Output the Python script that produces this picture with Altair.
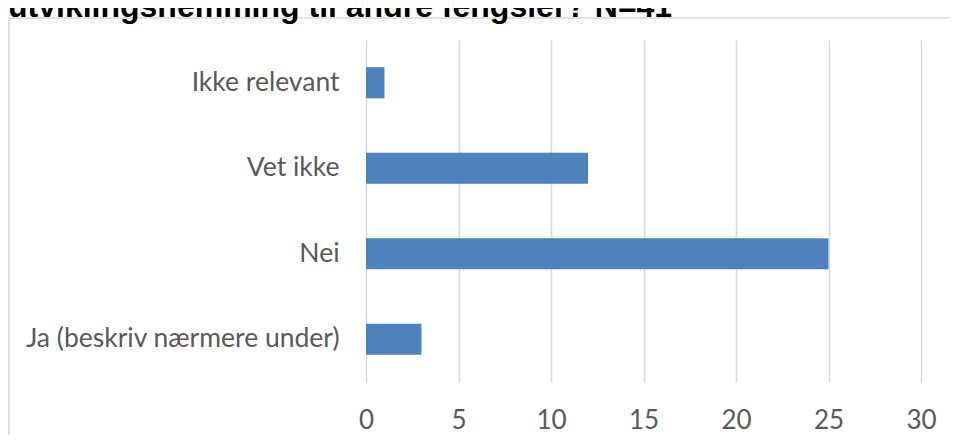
import altair as alt
import pandas as pd

categories = ["Ikke relevant", "Vet ikke", "Nei", "Ja (beskriv nærmere under)"]
values = [1, 12, 25, 3]
title_text = "utviklingshemming til andre fengsler? N=41"
x_ticks = [0, 5, 10, 15, 20, 25, 30]

df = pd.DataFrame({"kategori": categories, "antall": values})
one = pd.DataFrame({"t": [title_text]})

W, H = 555, 342
PAD_L, PAD_T = 358, 32

bars = alt.Chart(df).mark_bar(color="#4F81BD").encode(
    x=alt.X(
        "antall:Q",
        scale=alt.Scale(domain=[0, 30], nice=False),
        axis=alt.Axis(
            values=x_ticks, title=None, domain=False, ticks=False,
            grid=True, gridColor="#D9D9D9", gridWidth=1.5,
            labelFont="Lato", labelFontSize=26, labelColor="#595959",
            labelPadding=25, labelFlush=False,
        ),
    ),
    y=alt.Y(
        "kategori:N", sort=categories,
        scale=alt.Scale(paddingInner=0.636, paddingOuter=0.318),
        axis=alt.Axis(
            title=None, domain=False, ticks=False, grid=False,
            labelFont="Lato", labelFontSize=26.5, labelColor="#595959",
            labelPadding=27, labelLimit=400,
        ),
    ),
)

frame = alt.Chart(one).mark_rect(
    fill="transparent", stroke="#D9D9D9", strokeWidth=1.5
).encode(
    x=alt.value(-PAD_L + 1), x2=alt.value(W + 200),
    y=alt.value(-PAD_T + 10), y2=alt.value(H + 200),
)

title = alt.Chart(one).mark_text(
    font="Liberation Sans", fontWeight="bold", fontSize=32, color="#000000",
    align="left", baseline="alphabetic",
).encode(
    text="t:N", x=alt.value(-PAD_L), y=alt.value(-PAD_T + 9),
)

chart = alt.layer(frame, bars, title).properties(
    width=W, height=H,
    padding={"left": PAD_L, "top": PAD_T, "right": 28, "bottom": 53},
    autosize=alt.AutoSizeParams(type="none"),
).configure_view(stroke=None)

chart.save("out.html", embed_options={"renderer": "svg", "actions": False})
